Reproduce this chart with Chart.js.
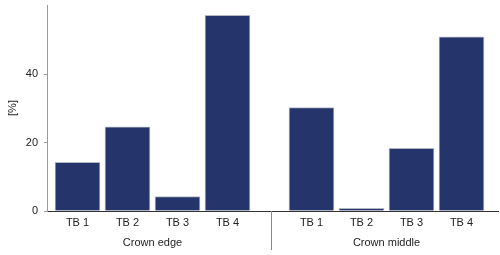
<!DOCTYPE html>
<html>
<head>
<meta charset="utf-8">
<script src="https://cdn.jsdelivr.net/npm/chart.js@4/dist/chart.umd.min.js"></script>
<style>
  html, body { margin: 0; padding: 0; background: #fff; }
  #wrap { width: 500px; height: 255px; }
</style>
</head>
<body>
<div id="wrap"><canvas id="grafica"></canvas></div>
<script>
// datos
const categorias = ['TB 1', 'TB 2', 'TB 3', 'TB 4'];
const grupos = ['Crown edge', 'Crown middle'];
const valoresEdge = [14.2, 24.6, 4.2, 57.2];
const valoresMiddle = [30.2, 0.8, 18.3, 50.9];
const ticksY = [0, 20, 40];

// posicion de inicio de cada grupo en el eje x (unidades de categoria)
const inicioGrupo = [1, 5.68];
const series = [valoresEdge, valoresMiddle];

const puntos = [];
const etiquetas = {};
series.forEach((vals, g) => {
  vals.forEach((v, i) => {
    const x = inicioGrupo[g] + i;
    puntos.push({ x: x, y: v });
    etiquetas[x.toFixed(2)] = categorias[i];
  });
});

const FUENTE = "'Liberation Sans', Arial, sans-serif";

// etiquetas de grupo y linea separadora
const gruposPlugin = {
  id: 'grupos',
  afterDraw(chart) {
    const ctx = chart.ctx;
    const sx = chart.scales.x;
    const base = chart.chartArea.bottom;
    ctx.save();
    ctx.fillStyle = '#222';
    ctx.font = '11px ' + FUENTE;
    ctx.textAlign = 'center';
    ctx.textBaseline = 'middle';
    grupos.forEach((nombre, g) => {
      const c = sx.getPixelForValue(inicioGrupo[g] + (categorias.length - 1) / 2);
      ctx.fillText(nombre, c, 243);
    });
    const sep = sx.getPixelForValue((inicioGrupo[0] + categorias.length - 1 + inicioGrupo[1]) / 2) + 1;
    ctx.strokeStyle = '#888';
    ctx.lineWidth = 1;
    ctx.beginPath();
    ctx.moveTo(Math.round(sep) + 0.5, base);
    ctx.lineTo(Math.round(sep) + 0.5, 250);
    ctx.stroke();
    ctx.restore();
  }
};

new Chart(document.getElementById('grafica').getContext('2d'), {
  type: 'bar',
  data: {
    datasets: [{
      data: puntos,
      backgroundColor: '#25346b',
      borderColor: '#b4b8c4',
      borderWidth: 1,
      barThickness: 45
    }]
  },
  options: {
    responsive: true,
    maintainAspectRatio: false,
    animation: false,
    layout: { padding: { top: 5, right: 2, left: 6, bottom: 0 } },
    plugins: { legend: { display: false }, tooltip: { enabled: false } },
    scales: {
      x: {
        type: 'linear',
        offset: false,
        min: 0.39,
        max: 9.41,
        afterFit: s => { s.height = 44; },
        afterBuildTicks: s => { s.ticks = puntos.map(p => ({ value: p.x })); },
        grid: { display: false, drawTicks: false },
        border: { color: '#333', width: 1 },
        ticks: {
          color: '#222',
          font: { size: 11, family: FUENTE },
          padding: 5,
          maxRotation: 0,
          autoSkip: false,
          callback: v => etiquetas[Number(v).toFixed(2)] || ''
        }
      },
      y: {
        min: 0,
        max: 60.2,
        afterFit: s => { s.width = 41; s.paddingTop = 0; },
        afterBuildTicks: s => { s.ticks = ticksY.map(v => ({ value: v })); },
        grid: { display: true, drawOnChartArea: false, drawTicks: true, tickLength: 3, color: '#999' },
        border: { color: '#999', width: 1 },
        title: { display: true, text: '[%]', color: '#222', font: { size: 11, family: FUENTE }, padding: 0 },
        ticks: { color: '#222', font: { size: 11, family: FUENTE }, padding: 6 }
      }
    }
  },
  plugins: [gruposPlugin]
});
</script>
</body>
</html>
